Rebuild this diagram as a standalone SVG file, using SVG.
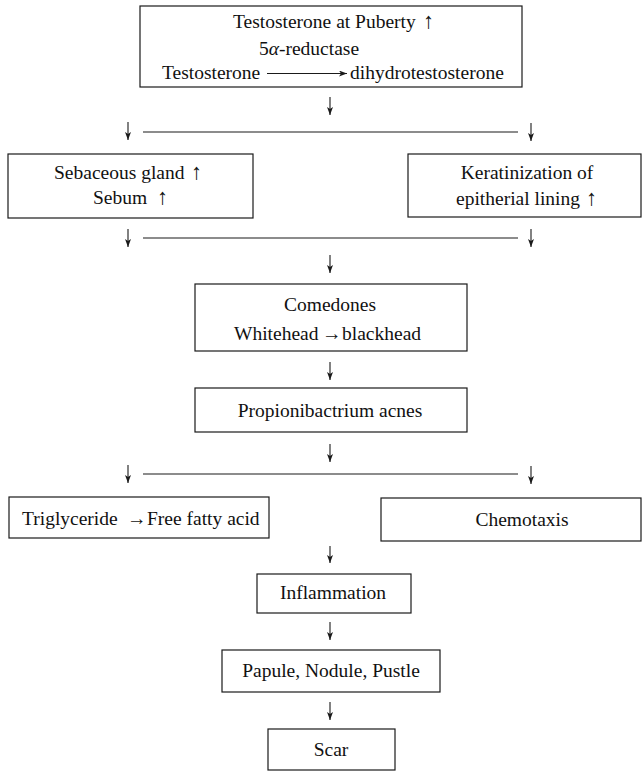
<svg xmlns="http://www.w3.org/2000/svg" width="642" height="771" viewBox="0 0 642 771">
<style>
.box{fill:#fff;stroke:#1a1a1a;stroke-width:1.2}
.t{font-family:"Liberation Serif","Times New Roman",serif;font-size:19.5px;fill:#111}
.c{text-anchor:middle}
.up{font-size:22px;fill:#111}
.ln{stroke:#1a1a1a;stroke-width:1.1;fill:none}
</style>
<defs>
<marker id="ah" viewBox="0 0 8 6" refX="8" refY="3" markerWidth="8" markerHeight="6" markerUnits="userSpaceOnUse" orient="auto">
<path d="M0,0 L8,3 L0,6 L2,3 z" fill="#1a1a1a"/>
</marker>
</defs>
<rect width="642" height="771" fill="#fff"/>
<g id="connectors">
<line class="ln" x1="330" y1="97" x2="330" y2="115" marker-end="url(#ah)"/>
<line class="ln" x1="128" y1="122" x2="128" y2="140" marker-end="url(#ah)"/>
<line class="ln" x1="143" y1="132" x2="518" y2="132"/>
<line class="ln" x1="531" y1="123" x2="531" y2="141" marker-end="url(#ah)"/>
<line class="ln" x1="128" y1="229" x2="128" y2="247" marker-end="url(#ah)"/>
<line class="ln" x1="143" y1="238" x2="518" y2="238"/>
<line class="ln" x1="531" y1="229" x2="531" y2="247" marker-end="url(#ah)"/>
<line class="ln" x1="330" y1="255" x2="330" y2="273" marker-end="url(#ah)"/>
<line class="ln" x1="330" y1="362" x2="330" y2="380" marker-end="url(#ah)"/>
<line class="ln" x1="330" y1="444" x2="330" y2="462" marker-end="url(#ah)"/>
<line class="ln" x1="128" y1="465" x2="128" y2="483" marker-end="url(#ah)"/>
<line class="ln" x1="143" y1="474" x2="518" y2="474"/>
<line class="ln" x1="531" y1="466" x2="531" y2="484" marker-end="url(#ah)"/>
<line class="ln" x1="330" y1="546" x2="330" y2="563" marker-end="url(#ah)"/>
<line class="ln" x1="330" y1="622" x2="330" y2="640" marker-end="url(#ah)"/>
<line class="ln" x1="330" y1="702" x2="330" y2="720" marker-end="url(#ah)"/>
</g>
<g id="testosterone">
<rect class="box" x="140" y="6" width="382" height="81"/>
<text class="t" x="233" y="28">Testosterone at Puberty<tspan class="up" x="423">↑</tspan></text>
<text class="t c" x="309" y="55">5<tspan font-style="italic">α</tspan>-reductase</text>
<text class="t" x="162" y="79">Testosterone</text>
<line class="ln" x1="267" y1="73.5" x2="347" y2="73.5" marker-end="url(#ah)"/>
<text class="t" x="350" y="79">dihydrotestosterone</text>
</g>
<g id="sebaceous">
<rect class="box" x="8" y="154" width="245" height="64"/>
<text class="t" x="54" y="179">Sebaceous gland<tspan class="up" x="191">↑</tspan></text>
<text class="t" x="93" y="204">Sebum<tspan class="up" x="157">↑</tspan></text>
</g>
<g id="keratinization">
<rect class="box" x="408" y="154" width="233" height="63"/>
<text class="t c" x="527" y="179">Keratinization of</text>
<text class="t" x="456" y="205">epitherial lining<tspan class="up" x="586">↑</tspan></text>
</g>
<g id="comedones">
<rect class="box" x="195" y="284" width="272" height="67"/>
<text class="t c" x="330" y="311">Comedones</text>
<text class="t" x="234" y="340">Whitehead<tspan x="322">→</tspan><tspan x="342">blackhead</tspan></text>
</g>
<g id="propionibactrium">
<rect class="box" x="195" y="388" width="272" height="44"/>
<text class="t c" x="330" y="417">Propionibactrium acnes</text>
</g>
<g id="triglyceride">
<rect class="box" x="9" y="497" width="260" height="41"/>
<text class="t" x="22" y="525">Triglyceride<tspan x="127">→</tspan><tspan x="147">Free fatty acid</tspan></text>
</g>
<g id="chemotaxis">
<rect class="box" x="381" y="498" width="260" height="43"/>
<text class="t c" x="522" y="526">Chemotaxis</text>
</g>
<g id="inflammation">
<rect class="box" x="257" y="574" width="154" height="39"/>
<text class="t c" x="333" y="599">Inflammation</text>
</g>
<g id="papule">
<rect class="box" x="222" y="650" width="218" height="42"/>
<text class="t c" x="331" y="677">Papule, Nodule, Pustle</text>
</g>
<g id="scar">
<rect class="box" x="268" y="729" width="127" height="41"/>
<text class="t c" x="331" y="756">Scar</text>
</g>
</svg>
